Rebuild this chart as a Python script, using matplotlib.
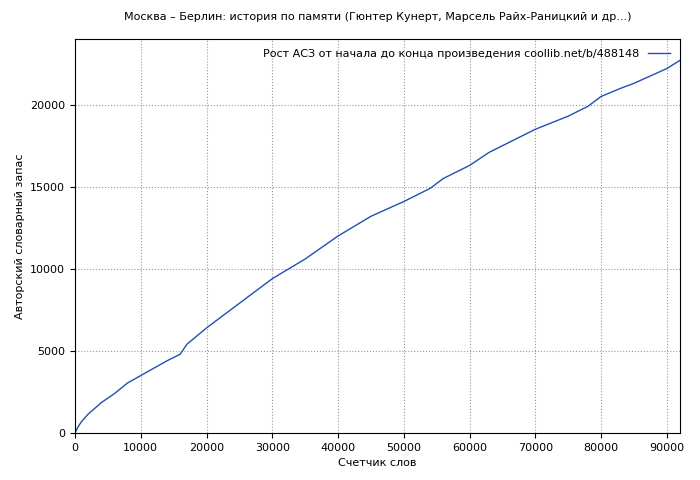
import matplotlib
matplotlib.use("Agg")
import matplotlib.pyplot as plt

# word counter vs author vocabulary
words = [0, 500, 1000, 2000, 3000, 4000, 6000, 8000, 10000, 12000, 14000, 16000, 17000,
         20000, 25000, 30000, 35000, 40000, 45000, 50000, 54000, 56000, 60000, 63000,
         68000, 70000, 75000, 78000, 80000, 83000, 85000, 90000, 92000]
vocab = [0, 400, 700, 1150, 1500, 1850, 2400, 3050, 3500, 3950, 4400, 4800, 5400,
         6400, 7900, 9400, 10600, 12000, 13200, 14100, 14900, 15500, 16300, 17100,
         18100, 18500, 19300, 19900, 20500, 21000, 21300, 22200, 22700]

plt.rcParams["font.family"] = ["DejaVu Sans"]
plt.rcParams["font.size"] = 8

fig = plt.figure(figsize=(7, 4.8), dpi=100)
ax = fig.add_axes([75 / 700, 47 / 480, 605 / 700, 394 / 480])
ax.plot(words, vocab, color="#1f4fbf", lw=1,
        label="Рост АСЗ от начала до конца произведения coollib.net/b/488148")
ax.set_xlim(0, 92000)
ax.set_ylim(0, 24000)
ax.set_xticks(range(0, 92000, 10000))
ax.set_yticks(range(0, 24000, 5000))
ax.grid(True, ls=":", color="#999999", lw=0.8)
ax.set_xlabel("Счетчик слов")
ax.set_ylabel("Авторский словарный запас")
ax.set_title("Москва – Берлин: история по памяти (Гюнтер Кунерт, Марсель Райх-Раницкий и др...)",
             fontsize=8, pad=14)
ax.legend(loc="upper right", frameon=False, markerfirst=False, fontsize=8)
fig.savefig("out.png", dpi=100)
